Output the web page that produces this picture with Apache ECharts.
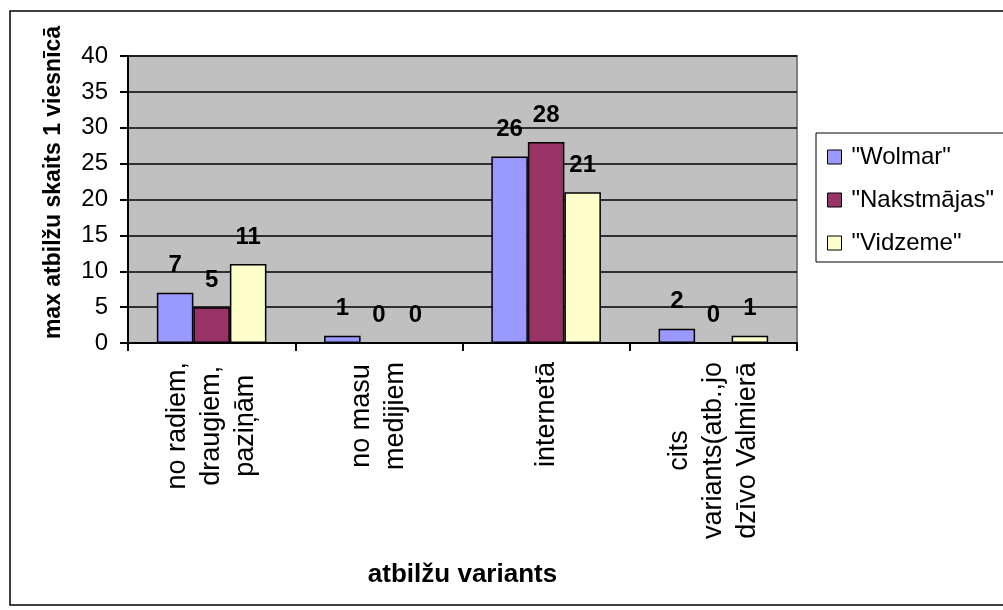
<!DOCTYPE html>
<html>
<head>
<meta charset="utf-8">
<script src="https://cdn.jsdelivr.net/npm/echarts@6/dist/echarts.min.js"></script>
<style>
  html, body { margin: 0; padding: 0; background: #fff; }
  #chart { width: 1003px; height: 610px; }
</style>
</head>
<body>
<div id="chart"></div>
<script>
// Answer options (category axis)
const categories = [
  'no radiem,\ndraugiem,\npaziņām',
  'no masu\nmedijiem',
  'internetā',
  'cits\nvariants(atb.,jo\ndzīvo Valmierā'
];
// Responses per hotel
const seriesNames = ['"Wolmar"', '"Nakstmājas"', '"Vidzeme"'];
const wolmar = [7, 1, 26, 2];
const nakstmajas = [5, 0, 28, 0];
const vidzeme = [11, 0, 21, 1];
const seriesColors = ['#9999FF', '#993366', '#FFFFCC'];

const FONT = '"Liberation Sans", Arial, sans-serif';

function barSeries(name, data, color) {
  return {
    name: name,
    type: 'bar',
    data: data,
    barGap: '0%',
    barCategoryGap: '34.5%',
    itemStyle: { color: color, borderColor: '#000', borderWidth: 1.5 },
    label: {
      show: true,
      position: 'top',
      distance: 15,
      color: '#000',
      fontFamily: FONT,
      fontSize: 24,
      fontWeight: 'bold'
    }
  };
}

const chart = echarts.init(document.getElementById('chart'), null, { renderer: 'canvas' });

chart.setOption({
  animation: false,
  backgroundColor: '#fff',
  textStyle: { fontFamily: FONT },
  graphic: [{
    type: 'rect',
    shape: { x: 10, y: 11, width: 1000, height: 594 },
    style: { fill: 'none', stroke: '#000', lineWidth: 1.5 },
    z: -1
  }],
  grid: {
    left: 128, top: 56, width: 669, height: 287,
    show: true,
    backgroundColor: '#C0C0C0',
    borderColor: '#808080',
    borderWidth: 2
  },
  legend: {
    orient: 'vertical',
    left: 816,
    top: 133,
    padding: [12, 10, 7, 11],
    itemGap: 19,
    itemWidth: 14,
    itemHeight: 14,
    icon: 'rect',
    borderColor: '#000',
    borderWidth: 1,
    backgroundColor: '#fff',
    itemStyle: { borderColor: '#000', borderWidth: 1 },
    textStyle: { fontFamily: FONT, fontSize: 24, color: '#000', padding: [0, 0, 0, 5] },
    data: seriesNames
  },
  xAxis: {
    type: 'category',
    data: categories,
    name: 'atbilžu variants',
    nameLocation: 'middle',
    nameGap: 219,
    nameTextStyle: { fontFamily: FONT, fontSize: 26, fontWeight: 'bold', color: '#000' },
    axisLine: { lineStyle: { color: '#000', width: 2 } },
    axisTick: { show: true, length: 8, lineStyle: { color: '#000', width: 2 } },
    axisLabel: {
      rotate: 90,
      margin: 19,
      interval: 0,
      color: '#000',
      fontFamily: FONT,
      fontSize: 27,
      lineHeight: 34,
      formatter: function (v) {
        return v.split('\n').map(function (l) { return '{c|' + l + '}'; }).join('\n');
      },
      rich: {
        c: { align: 'center', fontFamily: FONT, fontSize: 27, lineHeight: 34, color: '#000' }
      }
    }
  },
  yAxis: {
    type: 'value',
    min: 0,
    max: 40,
    interval: 5,
    name: 'max atbilžu skaits 1 viesnīcā',
    nameLocation: 'middle',
    nameGap: 63,
    nameTextStyle: {
      fontFamily: FONT, fontSize: 23, fontWeight: 'bold', color: '#000',
      padding: [0, 0, 0, 34]
    },
    axisLine: { show: true, lineStyle: { color: '#000', width: 2 } },
    axisTick: { show: true, length: 8, lineStyle: { color: '#000', width: 2 } },
    axisLabel: { margin: 20, color: '#000', fontFamily: FONT, fontSize: 24 },
    splitLine: { show: true, lineStyle: { color: '#000', width: 1.6 } }
  },
  series: [
    barSeries(seriesNames[0], wolmar, seriesColors[0]),
    barSeries(seriesNames[1], nakstmajas, seriesColors[1]),
    barSeries(seriesNames[2], vidzeme, seriesColors[2])
  ]
});
</script>
</body>
</html>
